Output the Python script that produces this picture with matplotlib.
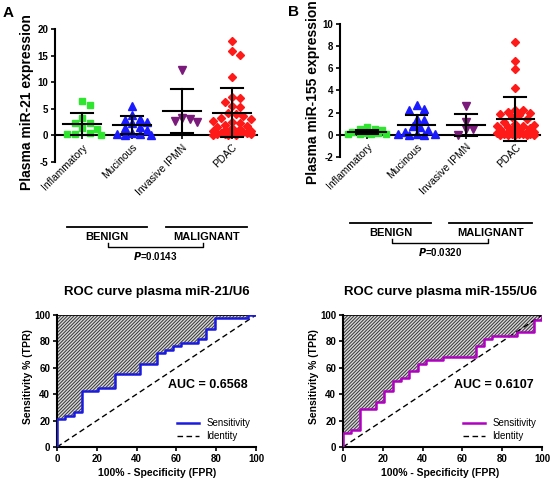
import numpy as np
import matplotlib
matplotlib.use("Agg")
from matplotlib import pyplot as plt
from matplotlib.lines import Line2D

plt.rcParams['font.family'] = ['Liberation Sans', 'DejaVu Sans']
plt.rcParams['hatch.linewidth'] = 0.7

W, H = 550, 479

groups = ["Inflammatory", "Mucinous", "Invasive IPMN", "PDAC"]
colors = ["#2ee62e", "#1a1aff", "#7a1a7a", "#ff1a1a"]
markers = ["s", "^", "v", "D"]
msizes = [5.0, 5.5, 5.5, 4.5]

# panel A - miR-21
mir21 = [
    [6.4, 5.7, 3.2, 2.4, 2.3, 1.3, 1.2, 0.5, 0.3, 0.2, 0.1],
    [5.6, 3.9, 3.0, 2.9, 2.5, 2.3, 1.5, 1.3, 1.0, 0.5, 0.3, 0.2, 0.1, 0.1],
    [12.3, 3.3, 3.0, 2.8, 2.5],
    [17.7, 15.9, 15.2, 10.9, 7.2, 7.0, 6.3, 5.5, 5.4, 4.2, 4.0, 3.6, 3.3, 3.0,
     2.8, 2.6, 2.3, 2.0, 1.8, 1.6, 1.4, 1.2, 1.0, 0.9, 0.8, 0.7, 0.6, 0.5,
     0.4, 0.6, 0.4, 0.2, 0.5, 0.3, 0.1, 0.0, 0.0, 0.2],
]
mir21_mean = [2.2, 2.0, 4.6, 4.3]
mir21_sd = [2.1, 1.7, 4.2, 4.6]

# panel B - miR-155
mir155 = [
    [0.7, 0.5, 0.5, 0.4, 0.3, 0.2, 0.2, 0.1, 0.1, 0.1, 0.05],
    [2.7, 2.3, 2.2, 1.4, 1.3, 0.8, 0.7, 0.4, 0.3, 0.1, 0.05, 0.05, 0.02, 0.02],
    [2.6, 1.2, 0.5, 0.5, 0.0],
    [8.4, 6.7, 5.9, 4.2, 2.2, 2.2, 2.1, 2.0, 1.9, 1.8, 1.6, 1.4, 1.2, 1.0,
     0.9, 0.8, 0.7, 0.6, 0.5, 0.5, 0.4, 0.3, 0.3, 0.2, 0.2, 0.1, 0.1, 0.05,
     0.05, 0.0, 0.0, 0.0, 0.0, 0.0, 0.1, 0.3, 0.6, 0.8],
]
mir155_mean = [0.25, 0.87, 0.9, 1.45]
mir155_sd = [0.2, 0.88, 1.0, 2.0]

# ROC curves (percent)
fpr21 = [0, 0, 4.2, 4.2, 8.3, 8.3, 12.5, 12.5, 20.8, 20.8, 29.2, 29.2, 41.7, 41.7,
         50.0, 50.0, 54.2, 54.2, 58.3, 58.3, 62.5, 62.5, 70.8, 70.8, 75.0, 75.0,
         79.2, 79.2, 95.8, 95.8, 100]
tpr21 = [0, 21.1, 21.1, 23.7, 23.7, 26.3, 26.3, 42.1, 42.1, 44.7, 44.7, 55.3, 55.3, 63.2,
         63.2, 71.1, 71.1, 73.7, 73.7, 76.3, 76.3, 78.9, 78.9, 81.6, 81.6, 89.5,
         89.5, 97.4, 97.4, 100, 100]
fpr155 = [0, 0, 4.2, 4.2, 8.3, 8.3, 16.7, 16.7, 20.8, 20.8, 25.0, 25.0, 29.2, 29.2,
          33.3, 33.3, 37.5, 37.5, 41.7, 41.7, 50.0, 50.0, 66.7, 66.7, 70.8, 70.8,
          75.0, 75.0, 87.5, 87.5, 95.8, 95.8, 100, 100]
tpr155 = [0, 10.5, 10.5, 13.2, 13.2, 28.9, 28.9, 34.2, 34.2, 42.1, 42.1, 50.0, 50.0, 52.6,
          52.6, 57.9, 57.9, 63.2, 63.2, 65.8, 65.8, 68.4, 68.4, 76.3, 76.3, 81.6,
          81.6, 84.2, 84.2, 86.8, 86.8, 96.0, 96.0, 100]


def px(x0, y0, x1, y1):
    return [x0 / W, 1 - y1 / H, (x1 - x0) / W, (y1 - y0) / H]


def fx(x):
    return x / W


def fy(y):
    return 1 - y / H


def swarm(ax, xc, vals, d, maxw):
    # simple beeswarm in pixel space, clamped to +-maxw data units
    order = np.argsort(vals)[::-1]
    pts = ax.transData.transform([(xc, v) for v in vals])
    lim = ax.transData.transform((xc + maxw, 0))[0] - pts[0][0]
    placed = []
    xs = np.zeros(len(vals))
    for i in order:
        x0, y0 = pts[i]
        best, bestd = x0, -1
        k = 0
        while True:
            off = ((k + 1) // 2) * (1 if k % 2 else -1) * d * 0.5
            if abs(off) > lim:
                break
            cx = x0 + off
            dmin = min([np.hypot(cx - a, y0 - b) for a, b in placed] + [1e9])
            if dmin >= d:
                best = cx
                break
            if dmin > bestd + 0.5:
                best, bestd = cx, dmin
            k += 1
        placed.append((best, y0))
        xs[i] = ax.transData.inverted().transform((best, y0))[0]
    return xs


fig = plt.figure(figsize=(5.5, 4.79), dpi=100)


def scatter_panel(rect, data, means, sds, ylim, yticks):
    ax = fig.add_axes(rect)
    ax.set_xlim(-0.55, 3.5)
    ax.set_ylim(*ylim)
    for s in ['top', 'right']:
        ax.spines[s].set_visible(False)
    ax.spines['bottom'].set_position(('data', 0))
    ax.spines['left'].set_linewidth(1.5)
    ax.spines['bottom'].set_linewidth(1.5)
    ax.set_yticks(yticks)
    ax.set_yticklabels([str(t) for t in yticks], fontsize=7, fontweight='bold')
    ax.set_xticks(range(len(groups)))
    ax.set_xticklabels(groups, rotation=45, ha='right', rotation_mode='anchor', fontsize=7.5)
    ax.tick_params(width=1.2, length=3, pad=2)
    for i, vals in enumerate(data):
        xs = swarm(ax, i, vals, 7.5, 0.42)
        ax.plot(xs, vals, linestyle='none', marker=markers[i], ms=msizes[i],
                color=colors[i], mec=colors[i], zorder=3)
        m, s = means[i], sds[i]
        ax.plot([i - 0.38, i + 0.38], [m, m], color='black', lw=1.5, zorder=4)
        ax.plot([i - 0.22, i + 0.22], [m + s, m + s], color='black', lw=1.5, zorder=4)
        ax.plot([i - 0.22, i + 0.22], [m - s, m - s], color='black', lw=1.5, zorder=4)
        ax.plot([i, i], [m - s, m + s], color='black', lw=1.5, zorder=4)
    return ax


axA = scatter_panel(px(55, 29, 257, 162), mir21, mir21_mean, mir21_sd, (-5, 20), [-5, 0, 5, 10, 15, 20])
axB = scatter_panel(px(340, 24, 540, 157), mir155, mir155_mean, mir155_sd, (-2, 10), [-2, 0, 2, 4, 6, 8, 10])

fig.text(fx(27), fy(102), "Plasma miR-21 expression", rotation=90, ha='center', va='center',
         fontsize=10, fontweight='bold')
fig.text(fx(313), fy(92), "Plasma miR-155 expression", rotation=90, ha='center', va='center',
         fontsize=10, fontweight='bold')
fig.text(fx(3), fy(13), "A", fontsize=11, fontweight='bold', va='center')
fig.text(fx(288), fy(12), "B", fontsize=11, fontweight='bold', va='center')


def group_note(b0, b1, m0, m1, yl, bx0, bx1, yb, ptxt, yp):
    fig.add_artist(Line2D([fx(b0), fx(b1)], [fy(yl), fy(yl)], color='black', lw=1.3))
    fig.add_artist(Line2D([fx(m0), fx(m1)], [fy(yl), fy(yl)], color='black', lw=1.3))
    fig.text(fx((b0 + b1) / 2), fy(yl + 10), "BENIGN", ha='center', va='center',
             fontsize=8, fontweight='bold')
    fig.text(fx((m0 + m1) / 2), fy(yl + 10), "MALIGNANT", ha='center', va='center',
             fontsize=8, fontweight='bold')
    fig.add_artist(Line2D([fx(bx0), fx(bx0), fx(bx1), fx(bx1)],
                          [fy(yb - 4), fy(yb), fy(yb), fy(yb - 4)], color='black', lw=1.0))
    fig.text(fx((bx0 + bx1) / 2), fy(yp), r"$\mathbfit{P}$" + "=" + ptxt, ha='center', va='center',
             fontsize=7, fontweight='bold')


group_note(67, 147, 166, 247, 227, 108, 203, 247, "0.0143", 256)
group_note(350, 431, 449, 532, 223, 392, 488, 243, "0.0320", 252)


def roc_panel(rect, fpr, tpr, color, title, auc, tcx, ylx):
    ax = fig.add_axes(rect)
    ax.set_xlim(0, 100)
    ax.set_ylim(0, 100)
    for s in ['top', 'right']:
        ax.spines[s].set_visible(False)
    ax.spines['left'].set_linewidth(1.5)
    ax.spines['bottom'].set_linewidth(1.5)
    ax.fill_between(fpr, tpr, 100, facecolor='#d8d8d8', edgecolor='#333333', hatch='//////////',
                    linewidth=0, zorder=1)
    ax.plot([0, 100], [100, 100], color='black', lw=1.2, zorder=2)
    ax.plot(fpr, tpr, color=color, lw=1.8, label='Sensitivity', zorder=4)
    ax.plot([0, 100], [0, 100], color='black', lw=1.0, ls=(0, (4, 2.5)), label='Identity', zorder=3)
    ax.set_xticks(range(0, 101, 20))
    ax.set_yticks(range(0, 101, 20))
    ax.tick_params(labelsize=7, width=1.2, length=3, pad=2)
    for lab in ax.get_xticklabels() + ax.get_yticklabels():
        lab.set_fontweight('bold')
    ax.text(76, 47, "AUC = " + auc, ha='center', va='center', fontsize=9, fontweight='bold')
    ax.legend(loc='lower right', frameon=False, fontsize=7, handlelength=2.2,
              borderaxespad=0.2, labelspacing=0.3)
    fig.text(fx(tcx), fy(292), title, ha='center', va='center', fontsize=9.5, fontweight='bold')
    fig.text(fx(tcx), fy(473), "100% - Specificity (FPR)", ha='center', va='center',
             fontsize=7.5, fontweight='bold')
    fig.text(fx(ylx), fy(377), "Sensitivity % (TPR)", rotation=90, ha='center', va='center',
             fontsize=7.5, fontweight='bold')
    return ax


roc_panel(px(57, 315, 256, 447), fpr21, tpr21, "#1a1ae0", "ROC curve plasma miR-21/U6", "0.6568", 157, 28)
roc_panel(px(343, 315, 542, 447), fpr155, tpr155, "#b000c0", "ROC curve plasma miR-155/U6", "0.6107", 440, 314)

fig.savefig("out.png", dpi=100)
